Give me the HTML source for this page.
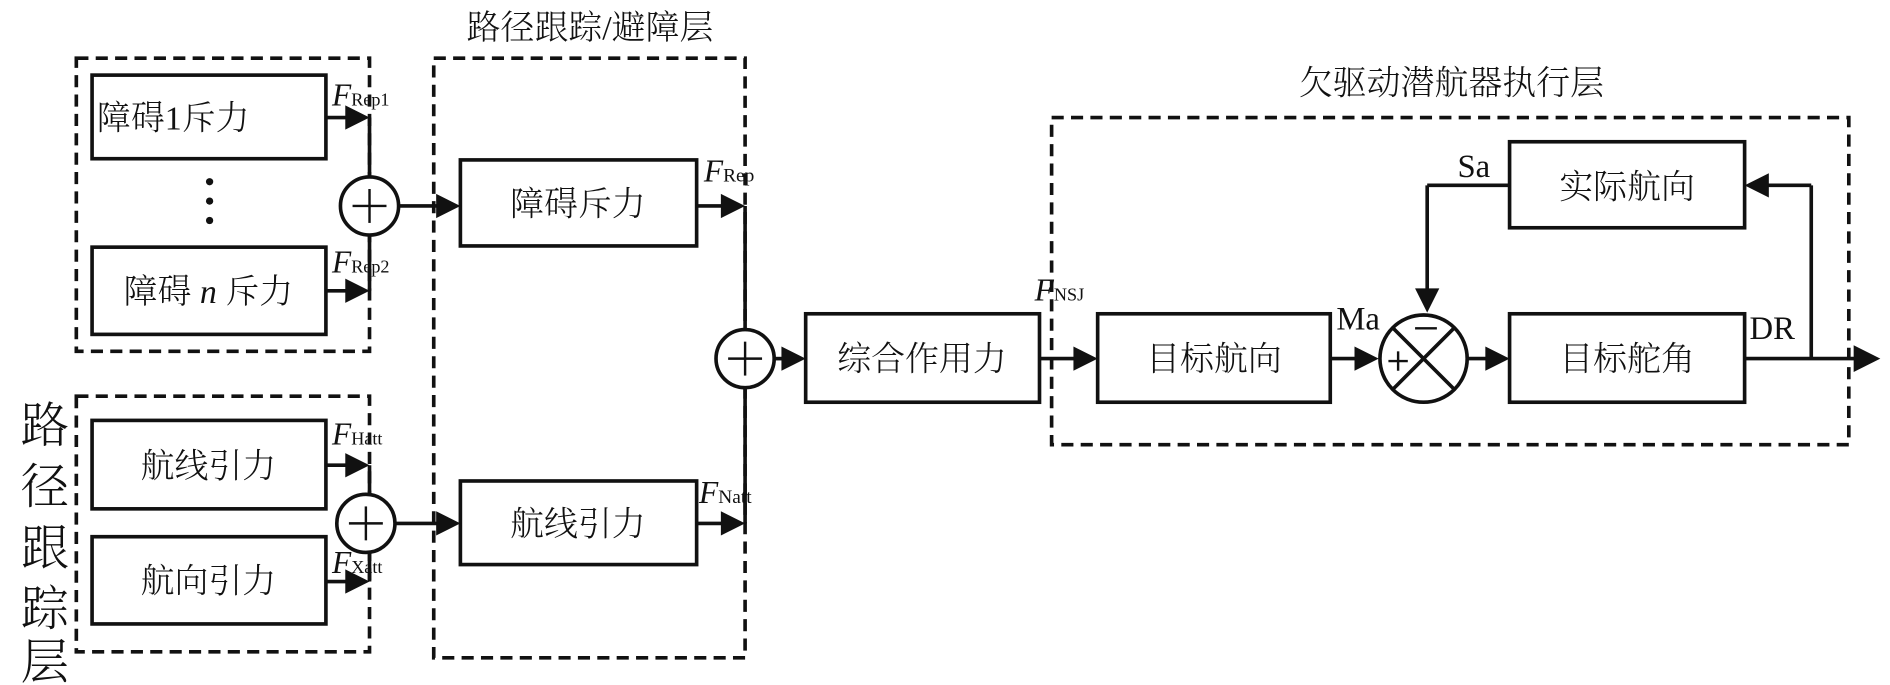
<!DOCTYPE html>
<html><head><meta charset="utf-8"><style>
html,body{margin:0;padding:0;background:#fff;}
svg{display:block;}
text{font-family:"Liberation Serif","Noto Serif CJK SC","Noto Sans CJK SC",serif;fill:#111;}
.cj{font-family:"Noto Sans CJK SC","Noto Serif CJK SC",sans-serif;font-weight:300;}
</style></head><body>
<svg width="1890" height="685" viewBox="0 0 1560 565.4" preserveAspectRatio="none" xmlns="http://www.w3.org/2000/svg">
<defs>
<marker id="a" markerWidth="10" markerHeight="10" refX="9" refY="5" orient="auto" markerUnits="userSpaceOnUse" viewBox="0 0 10 10">
</marker>
</defs>
<g fill="none" stroke="#111" stroke-width="3" stroke-dasharray="10,6">
<rect x="63" y="48" width="242" height="242"/>
<rect x="63" y="327" width="242" height="211"/>
<rect x="358" y="48" width="257" height="495"/>
<rect x="868" y="97" width="658" height="270"/>
</g>
<g fill="#fff" stroke="#111" stroke-width="3">
<rect x="76" y="62" width="193" height="69"/>
<rect x="76" y="204" width="193" height="72"/>
<rect x="76" y="347" width="193" height="73"/>
<rect x="76" y="443" width="193" height="72"/>
<rect x="380" y="132" width="195" height="71"/>
<rect x="380" y="397" width="195" height="69"/>
<rect x="665" y="259" width="193" height="73"/>
<rect x="906" y="259" width="192" height="73"/>
<rect x="1246" y="259" width="194" height="73"/>
<rect x="1246" y="117" width="194" height="71"/>
</g>
<g fill="none" stroke="#111" stroke-width="3">
<line x1="269" y1="97" x2="290" y2="97"/>
<line x1="269" y1="240" x2="290" y2="240"/>
<line x1="305" y1="97" x2="305" y2="240"/>
<line x1="329" y1="170" x2="366" y2="170"/>
<line x1="269" y1="384" x2="290" y2="384"/>
<line x1="269" y1="480" x2="290" y2="480"/>
<line x1="305" y1="384" x2="305" y2="480"/>
<line x1="326" y1="432" x2="366" y2="432"/>
<line x1="575" y1="170" x2="600" y2="170"/>
<line x1="575" y1="432" x2="600" y2="432"/>
<line x1="615" y1="170" x2="615" y2="432"/>
<line x1="639" y1="296" x2="650" y2="296"/>
<line x1="858" y1="296" x2="890" y2="296"/>
<line x1="1098" y1="296" x2="1122" y2="296"/>
<line x1="1207" y1="296" x2="1230" y2="296"/>
<line x1="1440" y1="296" x2="1532" y2="296"/>
<line x1="1495" y1="296" x2="1495" y2="153"/>
<line x1="1495" y1="153" x2="1458" y2="153"/>
<line x1="1246" y1="153" x2="1178" y2="153"/>
<line x1="1178" y1="153" x2="1178" y2="242"/>
</g>
<g fill="#111">
<polygon points="305,97 285,87 285,107"/>
<polygon points="305,240 285,230 285,250"/>
<polygon points="380,170 360,160 360,180"/>
<polygon points="305,384 285,374 285,394"/>
<polygon points="305,480 285,470 285,490"/>
<polygon points="380,432 360,422 360,442"/>
<polygon points="615,170 595,160 595,180"/>
<polygon points="615,432 595,422 595,442"/>
<polygon points="665,296 645,286 645,306"/>
<polygon points="906,296 886,286 886,306"/>
<polygon points="1138,296 1118,286 1118,306"/>
<polygon points="1246,296 1226,286 1226,306"/>
<polygon points="1552,296 1530,285 1530,307"/>
<polygon points="1440,153 1460,143 1460,163"/>
<polygon points="1178,258 1168,238 1188,238"/>
</g>
<g fill="#fff" stroke="#111" stroke-width="3">
<circle cx="305" cy="170" r="24"/>
<circle cx="302" cy="432" r="24"/>
<circle cx="615" cy="296" r="24"/>
<circle cx="1175" cy="296" r="36"/>
</g>
<g stroke="#111" stroke-width="2">
<line x1="291" y1="170" x2="319" y2="170"/><line x1="305" y1="156" x2="305" y2="184"/>
<line x1="288" y1="432" x2="316" y2="432"/><line x1="302" y1="418" x2="302" y2="446"/>
<line x1="601" y1="296" x2="629" y2="296"/><line x1="615" y1="282" x2="615" y2="310"/>
<line x1="1150" y1="271" x2="1200" y2="321" stroke-width="3"/><line x1="1200" y1="271" x2="1150" y2="321" stroke-width="3"/>
<line x1="1168" y1="271" x2="1186" y2="271"/>
<line x1="1146" y1="298" x2="1162" y2="298"/><line x1="1154" y1="290" x2="1154" y2="306"/>
</g>
<g fill="#111"><circle cx="173" cy="150" r="3"/><circle cx="173" cy="166" r="3"/><circle cx="173" cy="182" r="3"/></g>
<g class="cj" font-size="28">
<text x="487" y="32" text-anchor="middle">路径跟踪/避障层</text>
<text x="1198" y="78" text-anchor="middle">欠驱动潜航器执行层</text>
<text x="80" y="107">障碍<tspan style="font-family:'Liberation Serif',serif">1</tspan>斥力</text>
<text x="172" y="250" text-anchor="middle">障碍 <tspan style="font-family:'Liberation Serif',serif;font-style:italic">n</tspan> 斥力</text>
<text x="172" y="394" text-anchor="middle">航线引力</text>
<text x="172" y="489" text-anchor="middle">航向引力</text>
<text x="477" y="178" text-anchor="middle">障碍斥力</text>
<text x="477" y="442" text-anchor="middle">航线引力</text>
<text x="761" y="306" text-anchor="middle">综合作用力</text>
<text x="1002" y="306" text-anchor="middle">目标航向</text>
<text x="1343" y="306" text-anchor="middle">目标舵角</text>
<text x="1343" y="164" text-anchor="middle">实际航向</text>
</g>
<g class="cj" font-size="40">
<text x="37" y="365" text-anchor="middle">路</text>
<text x="37" y="415" text-anchor="middle">径</text>
<text x="37" y="466" text-anchor="middle">跟</text>
<text x="37" y="516" text-anchor="middle">踪</text>
<text x="37" y="560" text-anchor="middle">层</text>
</g>
<g font-size="26">
<text x="274" y="87" font-style="italic">F<tspan font-style="normal" font-size="15">Rep1</tspan></text>
<text x="274" y="225" font-style="italic">F<tspan font-style="normal" font-size="15">Rep2</tspan></text>
<text x="274" y="367" font-style="italic">F<tspan font-style="normal" font-size="15">Hatt</tspan></text>
<text x="274" y="473" font-style="italic">F<tspan font-style="normal" font-size="15">Xatt</tspan></text>
<text x="581" y="150" font-style="italic">F<tspan font-style="normal" font-size="16">Rep</tspan></text>
<text x="577" y="415" font-style="italic">F<tspan font-style="normal" font-size="16">Natt</tspan></text>
<text x="854" y="248" font-style="italic">F<tspan font-style="normal" font-size="15">NSJ</tspan></text>
<text x="1103" y="272" font-size="27">Ma</text>
<text x="1203" y="146" font-size="27">Sa</text>
<text x="1444" y="280" font-size="27">DR</text>
</g>
</svg>
</body></html>
